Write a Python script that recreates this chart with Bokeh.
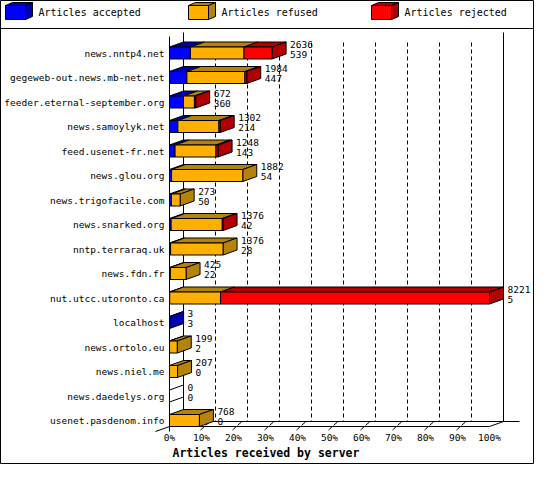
from bokeh.plotting import figure
from bokeh.models import Range1d, ColumnDataSource
from bokeh.embed import file_html
from bokeh.resources import INLINE
from bokeh.core.properties import value

# ---------------- data ----------------
hosts = ["news.nntp4.net", "gegeweb-out.news.mb-net.net", "feeder.eternal-september.org",
         "news.samoylyk.net", "feed.usenet-fr.net", "news.glou.org", "news.trigofacile.com",
         "news.snarked.org", "nntp.terraraq.uk", "news.fdn.fr", "nut.utcc.utoronto.ca",
         "localhost", "news.ortolo.eu", "news.niel.me", "news.daedelys.org",
         "usenet.pasdenom.info"]
offered = [2636, 1984, 672, 1302, 1248, 1882, 273, 1376, 1376, 425, 8221, 3, 199, 207, 0, 768]
accepted = [539, 447, 360, 214, 143, 54, 50, 42, 28, 22, 5, 3, 2, 0, 0, 0]
refused = [1375, 1490, 280, 1056, 1052, 1828, 223, 1314, 1348, 403, 1306, 0, 197, 207, 0, 768]
rejected = [722, 47, 32, 32, 53, 0, 0, 20, 0, 0, 6910, 0, 0, 0, 0, 0]
series_names = ["Articles accepted", "Articles refused", "Articles rejected"]
tick_values = [0, 10, 20, 30, 40, 50, 60, 70, 80, 90, 100]
tick_labels = ["0%", "10%", "20%", "30%", "40%", "50%", "60%", "70%", "80%", "90%", "100%"]
axis_title = "Articles received by server"

# ---------------- style ----------------
FRONT = ["#0000FF", "#FFAF00", "#FF0000"]
DARK = ["#0000B0", "#B5830A", "#B00000"]
FONT = value("DejaVu Sans Mono")
FS = "9.5px"

W, H = 534, 464
X0, SX = 169.0, 3.2      # screen x of 0 %, px per %
Y0, SY = 52.5, 24.5      # screen y of first row, px per row


def px_x(fx):
    return (fx - X0) / SX


def px_y(fy):
    return (fy - Y0) / SY


DX = 14 / SX
DY = 5 / SY
HALF = 6 / SY

p = figure(width=W, height=H,
           x_range=Range1d(px_x(0), px_x(W)),
           y_range=Range1d(px_y(H), px_y(0)),
           x_axis_type=None, y_axis_type=None,
           toolbar_location=None, output_backend="svg",
           min_border=0, outline_line_color="black",
           background_fill_color="white", border_fill_color="white")
p.grid.visible = False

n = len(hosts)
yA = (n - 1) + HALF       # front floor edge
yB = yA - DY              # back floor edge
scale = 100.0 / max(offered)

# ---------------- walls / floor ----------------
p.segment(x0=[DX, 100 + DX], y0=[px_y(32)] * 2, x1=[DX, 100 + DX], y1=[yB] * 2,
          line_color="black", line_width=1)
grid_x = [t + DX for t in tick_values[1:-1]]
p.segment(x0=grid_x, y0=[px_y(42)] * len(grid_x), x1=grid_x, y1=[yB] * len(grid_x),
          line_color="black", line_width=1, line_dash="4 3")
p.segment(x0=[DX], y0=[yB], x1=[100 + DX + 16 / SX], y1=[yB], line_color="black")
p.segment(x0=[0], y0=[yA], x1=[100], y1=[yA], line_color="black")
p.segment(x0=[100], y0=[yA], x1=[100 + DX], y1=[yB], line_color="black")
p.segment(x0=[0], y0=[px_y(36)], x1=[0], y1=[yA + 5 / SY], line_color="black")
p.segment(x0=[DX], y0=[yB], x1=[-DX], y1=[yA + DY], line_color="black")
tk = tick_values[1:-1]
p.segment(x0=[t - 1 / SX for t in tk], y0=[yA + 3.5 / SY] * len(tk),
          x1=[t + 8.5 / SX for t in tk], y1=[yB] * len(tk),
          line_color="black", line_dash="5 2")

# ---------------- bars ----------------
fq = dict(left=[], right=[], top=[], bottom=[], color=[])
pf = dict(xs=[], ys=[], color=[], alpha=[])
for i in range(n):
    vals = [accepted[i], refused[i], rejected[i]]
    yt, yb = i - HALF, i + HALF
    left = 0.0
    last = None
    for j, v in enumerate(vals):
        if v <= 0:
            continue
        right = left + v * scale
        fq["left"].append(left); fq["right"].append(right)
        fq["top"].append(yt); fq["bottom"].append(yb); fq["color"].append(FRONT[j])
        pf["xs"].append([left, right, right + DX, left + DX])
        pf["ys"].append([yt, yt, yt - DY, yt - DY])
        pf["color"].append(DARK[j]); pf["alpha"].append(1.0)
        left = right
        last = j
    R = offered[i] * scale
    pf["xs"].append([R, R, R + DX, R + DX])
    pf["ys"].append([yt, yb, yb - DY, yt - DY])
    pf["color"].append(DARK[last] if last is not None else "white")
    pf["alpha"].append(1.0 if last is not None else 0.0)

p.patches(xs="xs", ys="ys", fill_color="color", fill_alpha="alpha",
          line_color="black", line_width=1, source=ColumnDataSource(pf))
p.quad(left="left", right="right", top="top", bottom="bottom", fill_color="color",
       line_color="black", line_width=1, source=ColumnDataSource(fq))

# ---------------- texts ----------------
rows = list(range(n))
p.text(x=[-5 / SX] * n, y=rows, text=hosts, text_font=FONT, text_font_size=FS,
       text_align="right", text_baseline="middle", text_color="black")
lx = [o * scale + DX + 4 / SX for o in offered]
p.text(x=lx, y=[r - 9 / SY for r in rows], text=[str(o) for o in offered],
       text_font=FONT, text_font_size=FS, text_align="left", text_baseline="middle")
p.text(x=lx, y=[r + 1 / SY for r in rows], text=[str(a) for a in accepted],
       text_font=FONT, text_font_size=FS, text_align="left", text_baseline="middle")
p.text(x=tick_values, y=[yA + 11 / SY] * len(tick_values), text=tick_labels,
       text_font=FONT, text_font_size=FS, text_align="center", text_baseline="middle")
p.text(x=[3 / SX], y=[yA + 26 / SY], text=[axis_title], text_font=FONT,
       text_font_size="11.5px", text_font_style="bold", text_align="left",
       text_baseline="middle")

# ---------------- legend ----------------
p.segment(x0=[px_x(0)], y0=[px_y(28)], x1=[px_x(W)], y1=[px_y(28)], line_color="black")
cube_x = [5, 188, 371]
lq = dict(left=[], right=[], top=[], bottom=[], color=[])
lp = dict(xs=[], ys=[], color=[])
for j, cx in enumerate(cube_x):
    l, r, t, b = px_x(cx), px_x(cx + 20), px_y(5), px_y(19)
    dx, dy = 7 / SX, 3 / SY
    lq["left"].append(l); lq["right"].append(r); lq["top"].append(t)
    lq["bottom"].append(b); lq["color"].append(FRONT[j])
    lp["xs"].append([l, r, r + dx, l + dx]); lp["ys"].append([t, t, t - dy, t - dy])
    lp["color"].append(DARK[j])
    lp["xs"].append([r, r, r + dx, r + dx]); lp["ys"].append([t, b, b - dy, t - dy])
    lp["color"].append(DARK[j])
p.patches(xs="xs", ys="ys", fill_color="color", line_color="black",
          source=ColumnDataSource(lp))
p.quad(left="left", right="right", top="top", bottom="bottom", fill_color="color",
       line_color="black", source=ColumnDataSource(lq))
p.text(x=[px_x(cx + 33) for cx in cube_x], y=[px_y(12)] * 3, text=series_names,
       text_font=FONT, text_font_size="10px", text_align="left", text_baseline="middle")

open("out.html", "w").write(file_html(p, INLINE))
